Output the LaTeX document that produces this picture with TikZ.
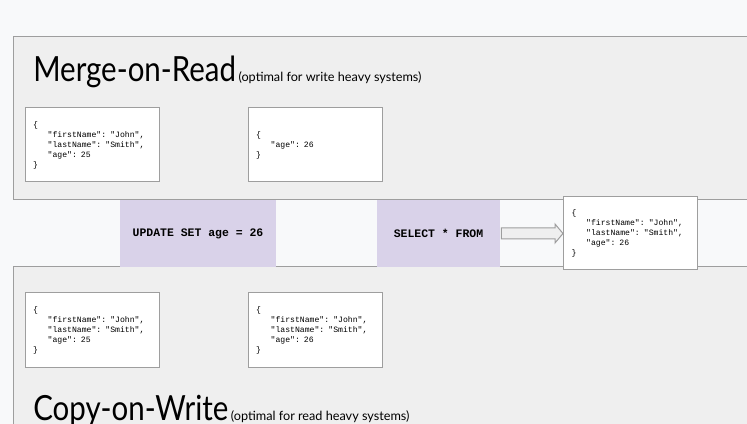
\documentclass[tikz,border=0pt]{standalone}
\usepackage{fontspec}
\setmainfont{Lato}
\setmonofont{Liberation Mono}
\usetikzlibrary{calc}

\definecolor{pagebg}{HTML}{F8F9FA}
\definecolor{panelgray}{HTML}{EFEFEF}
\definecolor{panelline}{HTML}{9E9E9E}
\definecolor{querypurple}{HTML}{D9D2E9}

\newcommand{\ind}{\hphantom{xxx}}
\newcommand{\jsonrec}[1]{\{\\\ind"firstName": "John",\\\ind"lastName": "Smith",\\\ind"age": #1\\\}}
\newcommand{\bigtitle}[1]{\scalebox{0.85}[1]{#1}}

\begin{document}
\begin{tikzpicture}
  [x=0.75pt,y=-0.75pt,
   panel/.style={draw=panelline,fill=panelgray,line width=0.75pt},
   doc/.style={draw=panelline,fill=white,line width=0.75pt,minimum height=55.5pt,
     text width=88.5pt,inner xsep=6pt,align=left,font=\ttfamily\fontsize{6.1}{7.5}\selectfont},
   query/.style={fill=querypurple,minimum height=50.25pt,inner sep=0pt,
     font=\ttfamily\bfseries\fontsize{8.6}{10}\selectfont},
   title/.style={anchor=base west,inner sep=0pt,font=\fontsize{26}{28}\selectfont},
   subtitle/.style={anchor=base west,inner sep=0pt,font=\fontsize{9.5}{11}\selectfont},
   blockarrow/.style={draw=panelline,fill=panelgray,line width=0.75pt,line join=miter}]
    \clip (0,0) rectangle (747,424);
    \fill[pagebg] (0,0) rectangle (747,424);

    % the two storage panels
    \draw[panel] (13,37) rectangle (760,200);
    \draw[panel] (13,267) rectangle (760,440);

    \node (mor)  [title] at (33,82) {\bigtitle{Merge-on-Read}};
    \node (morn) [subtitle,xshift=1.5pt] at (mor.base east) {(optimal for write heavy systems)};
    \node (cow)  [title] at (33,421) {\bigtitle{Copy-on-Write}};
    \node (cown) [subtitle,xshift=1.5pt] at (cow.base east) {(optimal for read heavy systems)};

    % queries
    \node (upd) [query,minimum width=117pt]   at (198,233.5)   {UPDATE SET age = 26};
    \node (sel) [query,minimum width=92.25pt] at (438.5,233.5) {SELECT * FROM};

    % records
    \node (mbase)  [doc] at (92,145)  {\jsonrec{25}};
    \node (mdelta) [doc] at (315,145) {\{\\\ind"age": 26\\\}};
    \node (cold)   [doc] at (92,330)  {\jsonrec{25}};
    \node (cnew)   [doc] at (315,330) {\jsonrec{26}};
    \node (res)    [doc,minimum height=54.75pt] at (630.5,233.5) {\jsonrec{26}};

    \draw[blockarrow] ($(sel.east)+(1,-5.5)$) -- ($(res.west)+(-8,-5.5)$) -- ($(res.west)+(-8,-9.5)$)
      -- (res.west) -- ($(res.west)+(-8,9.5)$) -- ($(res.west)+(-8,5.5)$) -- ($(sel.east)+(1,5.5)$) -- cycle;
\end{tikzpicture}
\end{document}
